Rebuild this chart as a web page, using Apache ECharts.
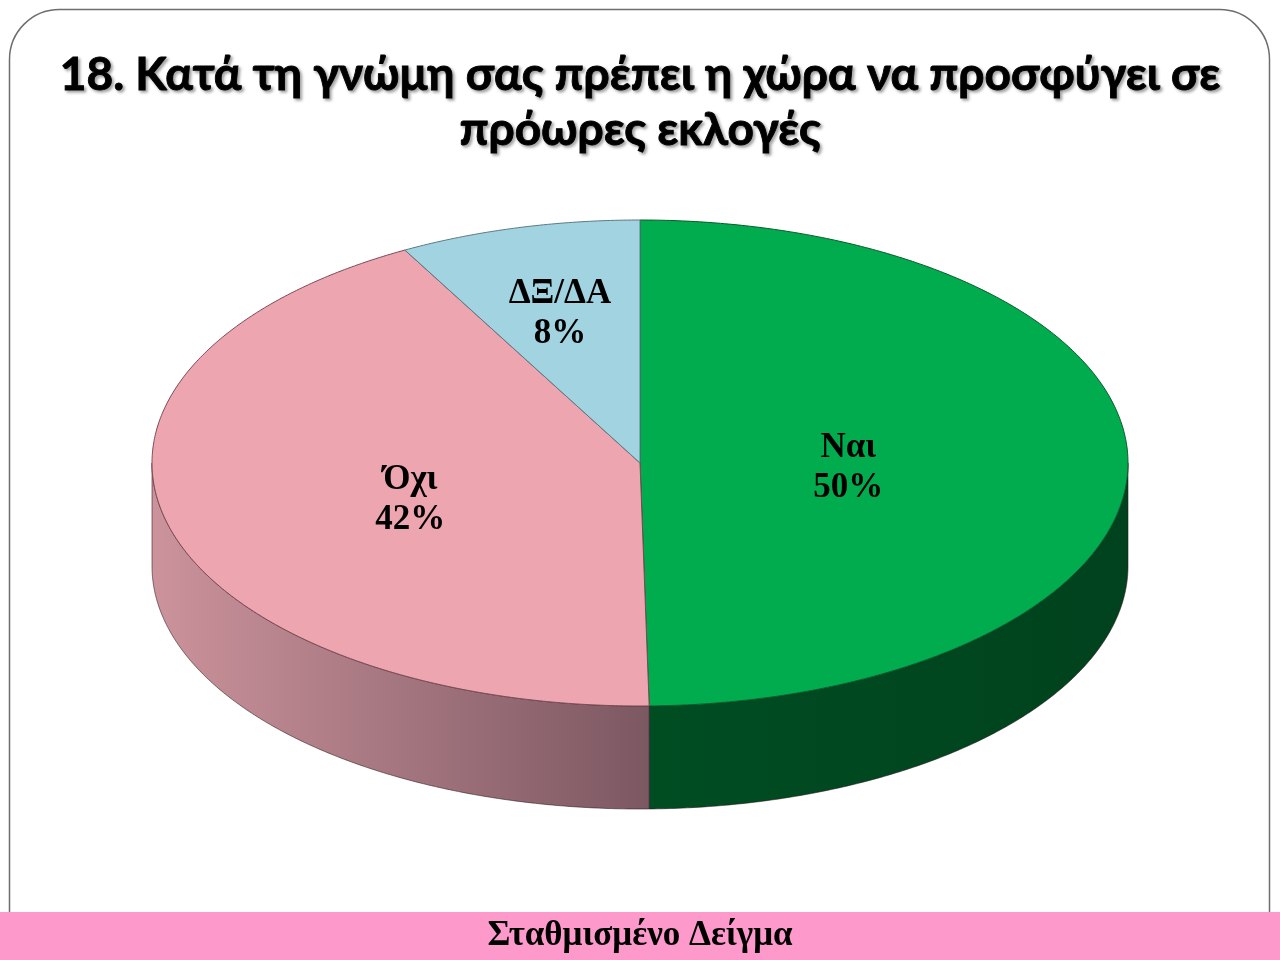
<!DOCTYPE html>
<html>
<head>
<meta charset="utf-8">
<script src="https://cdn.jsdelivr.net/npm/echarts@6/dist/echarts.min.js"></script>
<style>html,body{margin:0;padding:0;background:#fff}#c{width:1280px;height:960px}</style>
</head>
<body>
<div id="c"></div>
<script>
const categories = ['Ναι', 'Όχι', 'ΔΞ/ΔΑ'];
const values = [49.7, 42.3, 8.0];
const titleText = '18. Κατά τη γνώμη σας πρέπει η χώρα να προσφύγει σε\nπρόωρες εκλογές';
const footerText = 'Σταθμισμένο Δείγμα';

const topColors = ['#00AC4D', '#EDA5B0', '#A2D3E0'];
const sideColors = [
  ['#004D22', '#00421D'],
  ['#CC939C', '#7C5862'],
  ['#7FA8B3', '#6A8F99']
];
const edgeColors = ['#0A5A2C', '#7A4A55', '#5A7A85'];

const CX = 640, CY = 463, RX = 488, RY = 243, DEPTH = 103;
const total = values.reduce((a, b) => a + b, 0);
const starts = [];
let acc = 0;
values.forEach(v => { starts.push(acc / total * Math.PI * 2); acc += v; });

function pt(t, dy) {
  return [CX + RX * Math.sin(t), CY - RY * Math.cos(t) + (dy || 0)];
}
function arc(t0, t1, dy) {
  const pts = [];
  const n = Math.max(2, Math.ceil(Math.abs(t1 - t0) / (Math.PI / 360)));
  for (let i = 0; i <= n; i++) pts.push(pt(t0 + (t1 - t0) * i / n, dy));
  return pts;
}

const chart = echarts.init(document.getElementById('c'), null, {renderer: 'canvas'});
chart.setOption({
  backgroundColor: '#ffffff',
  animation: false,
  title: {
    text: titleText,
    left: 'center',
    top: 43,
    textStyle: {
      fontFamily: 'Lato',
      fontWeight: 'bold',
      fontSize: 46,
      lineHeight: 55,
      color: '#000',
      textBorderColor: '#000',
      textBorderWidth: 0.9,
      textShadowColor: 'rgba(0,0,0,0.35)',
      textShadowBlur: 3,
      textShadowOffsetX: 2,
      textShadowOffsetY: 2
    }
  },
  graphic: [
    {
      type: 'rect', z: -10, silent: true,
      shape: {x: 9.5, y: 9.5, width: 1260, height: 960, r: [50, 50, 0, 0]},
      style: {fill: '#fff', stroke: '#6e6e6e', lineWidth: 1.5}
    },
    {
      type: 'rect', z: 10, silent: true,
      shape: {x: 0, y: 912, width: 1280, height: 48},
      style: {fill: '#FE99CB'}
    },
    {
      type: 'text', z: 11, silent: true,
      x: 640, y: 936,
      style: {
        text: footerText, fill: '#000',
        fontFamily: 'Liberation Serif', fontWeight: 'bold', fontSize: 35,
        align: 'center', verticalAlign: 'middle'
      }
    }
  ],
  series: [{
    type: 'custom',
    coordinateSystem: 'none',
    data: values.map((v, i) => ({name: categories[i], value: v})),
    renderItem: function (params, api) {
      const i = params.dataIndex;
      const t0 = starts[i];
      const t1 = starts[i] + values[i] / total * Math.PI * 2;
      const children = [];
      const s0 = Math.max(t0, Math.PI / 2), s1 = Math.min(t1, Math.PI * 1.5);
      if (s1 > s0) {
        const topArc = arc(s0, s1, 0);
        const botArc = arc(s1, s0, DEPTH);
        const sc = sideColors[i];
        children.push({
          type: 'polygon',
          shape: {points: topArc.concat(botArc)},
          style: {
            fill: new echarts.graphic.LinearGradient(0, 0, 1, 0, [
              {offset: 0, color: sc[0]}, {offset: 1, color: sc[1]}
            ]),
            stroke: 'rgba(40,20,25,0.55)', lineWidth: 1
          }
        });
      }
      children.push({
        type: 'polygon',
        shape: {points: [[CX, CY]].concat(arc(t0, t1, 0))},
        style: {fill: topColors[i], stroke: edgeColors[i], lineWidth: 1}
      });
      const half = (t1 - t0) / 2;
      const f = 2 * Math.sin(half) / (3 * half);
      const mid = (t0 + t1) / 2;
      const lp = [CX + RX * f * Math.sin(mid), CY - RY * f * Math.cos(mid) + 6];
      const pct = Math.round(values[i] / total * 100);
      children.push({
        type: 'text',
        x: lp[0], y: lp[1], z2: 10,
        style: {
          text: categories[i] + '\n' + pct + '%',
          fill: '#000',
          fontFamily: 'Liberation Serif', fontWeight: 'bold', fontSize: 35,
          lineHeight: 40,
          align: 'center', verticalAlign: 'middle'
        }
      });
      return {type: 'group', children: children};
    }
  }]
});
</script>
</body>
</html>
